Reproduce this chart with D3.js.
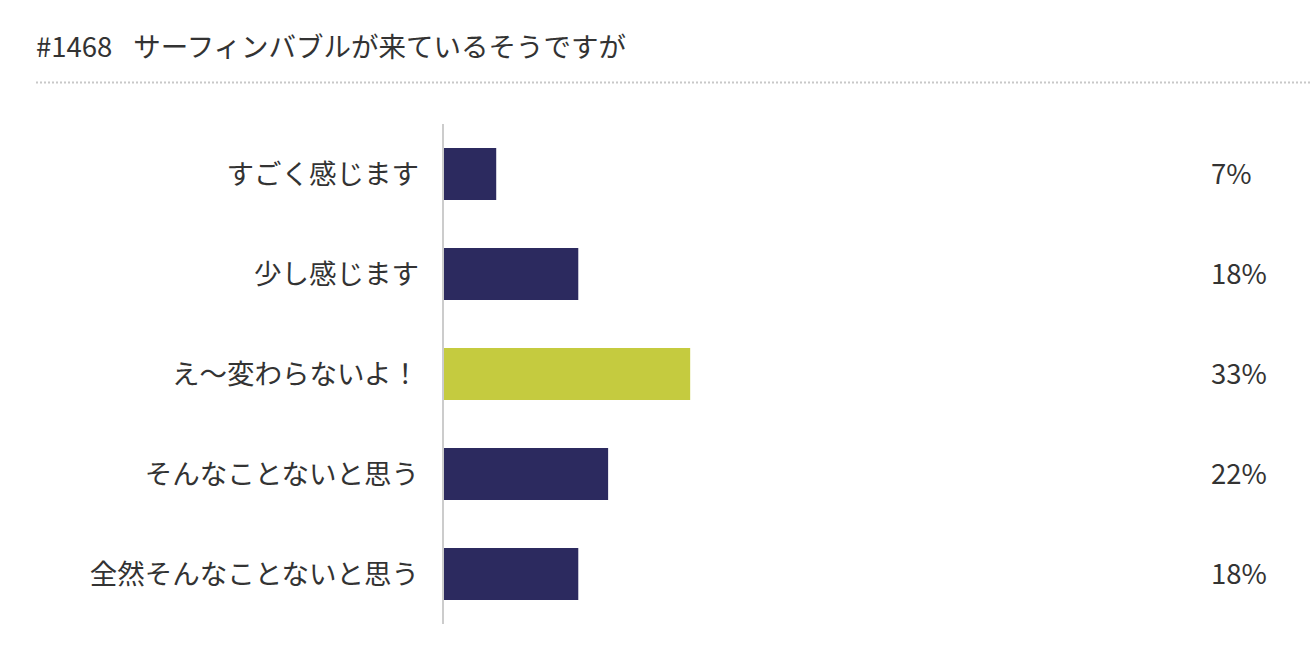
<!DOCTYPE html>
<html>
<head>
<meta charset="utf-8">
<script src="https://cdn.jsdelivr.net/npm/d3@7"></script>
<style>
    html, body { margin: 0; padding: 0; background: #fff; }
    svg text { font-family: "Noto Sans CJK JP", "Noto Sans", sans-serif; fill: #333; }
</style>
</head>
<body>
<div id="chart"></div>
<script>
// Survey answers and share of votes (%)
const titleNumber = '#1468';
const titleText = 'サーフィンバブルが来ているそうですが';
const categories = ['すごく感じます', '少し感じます', 'え〜変わらないよ！', 'そんなことないと思う', '全然そんなことないと思う'];
const values = [7, 18, 33, 22, 18];
const highlight = 'え〜変わらないよ！';

const width = 1310;
const height = 672;

const svg = d3.select('#chart')
    .append('svg')
    .attr('width', width)
    .attr('height', height);

// Title + dotted rule
const title = svg.append('text')
    .attr('x', 36)
    .attr('y', 57)
    .attr('font-size', '27.5px');
title.append('tspan').text(titleNumber);
title.append('tspan').attr('dx', 21).text(titleText);

svg.append('line')
    .attr('x1', 36)
    .attr('x2', width)
    .attr('y1', 82.5)
    .attr('y2', 82.5)
    .attr('stroke', '#c8c8c8')
    .attr('stroke-width', 2)
    .attr('stroke-dasharray', '2,2');

// Scales
const x = d3.scaleLinear()
    .domain([0, 100])
    .range([444, 1190]);

const y = d3.scaleBand()
    .domain(categories)
    .range([124, 624])
    .paddingInner(0.48)
    .paddingOuter(0.24);

const g = svg.append('g');

// Bars
g.selectAll('rect.bar')
    .data(categories)
    .enter()
    .append('rect')
    .attr('class', 'bar')
    .attr('x', x(0))
    .attr('y', d => y(d))
    .attr('width', (d, i) => x(values[i]) - x(0))
    .attr('height', y.bandwidth())
    .attr('fill', d => d === highlight ? '#c5cb3f' : '#2c2a5f');

// Vertical axis line
g.append('line')
    .attr('x1', 443)
    .attr('x2', 443)
    .attr('y1', y.range()[0])
    .attr('y2', y.range()[1])
    .attr('stroke', '#cccccc')
    .attr('stroke-width', 2);

// Category labels
g.selectAll('text.cat')
    .data(categories)
    .enter()
    .append('text')
    .attr('class', 'cat')
    .attr('x', 419)
    .attr('y', d => y(d) + y.bandwidth() / 2)
    .attr('dy', '0.35em')
    .attr('text-anchor', 'end')
    .attr('font-size', '27.5px')
    .text(d => d);

// Percentage labels
g.selectAll('text.pct')
    .data(values)
    .enter()
    .append('text')
    .attr('class', 'pct')
    .attr('x', 1211)
    .attr('y', (d, i) => y(categories[i]) + y.bandwidth() / 2)
    .attr('dy', '0.35em')
    .attr('font-size', '27.5px')
    .text(d => d + '%');
</script>
</body>
</html>
